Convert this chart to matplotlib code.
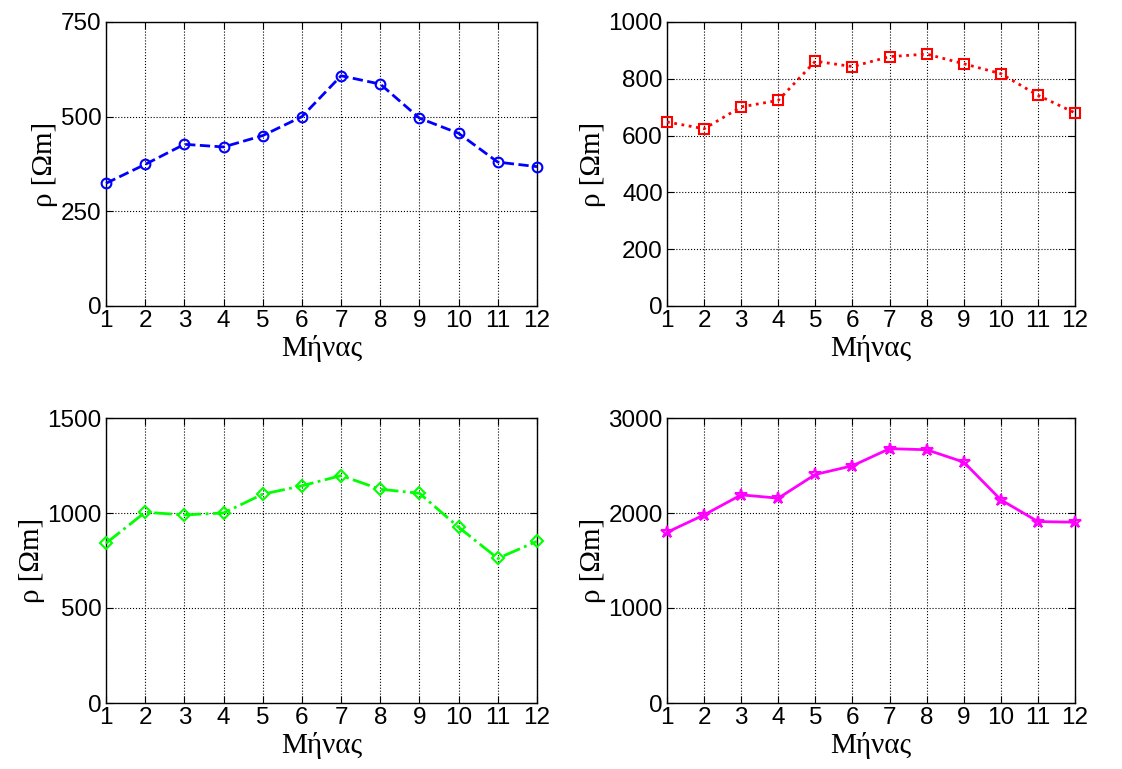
"""Monthly soil resistivity, four sites, MATLAB-like 2x2 layout."""
import matplotlib
matplotlib.use("Agg")
import matplotlib.pyplot as plt

months = list(range(1, 13))

rho_a = [324, 374, 427, 420, 450, 500, 608, 586, 496, 456, 380, 368]
rho_b = [648, 624, 701, 724, 862, 843, 878, 887, 853, 818, 742, 680]
rho_c = [841, 1004, 990, 1000, 1099, 1143, 1197, 1125, 1104, 925, 761, 851]
rho_d = [1797, 1980, 2191, 2156, 2406, 2497, 2677, 2666, 2536, 2139, 1910, 1903]

yticks_a = [0, 250, 500, 750]
yticks_b = [0, 200, 400, 600, 800, 1000]
yticks_c = [0, 500, 1000, 1500]
yticks_d = [0, 1000, 2000, 3000]

xlabel = "Μήνας"
ylabel = "ρ [Ωm]"

plt.rcParams["font.family"] = ["Liberation Sans", "DejaVu Sans"]

W, H = 1122, 769
fig = plt.figure(figsize=(W / 100, H / 100), dpi=100)


def box(x0, y0, x1, y1):
    # pixel box -> figure fraction
    return [x0 / W, 1 - y1 / H, (x1 - x0) / W, (y1 - y0) / H]


panels = [
    (box(106, 22, 537, 306), rho_a, yticks_a, "#0000ff", "--", "o"),
    (box(667, 22, 1075, 306), rho_b, yticks_b, "#ff0000", ":", "s"),
    (box(106, 418, 537, 703), rho_c, yticks_c, "#00ff00", "-.", "D"),
    (box(667, 418, 1075, 703), rho_d, yticks_d, "#ff00ff", "-", "*"),
]

for pos, vals, yt, col, ls, mk in panels:
    ax = fig.add_axes(pos)
    ms = 9 if mk == "*" else (6 if mk == "D" else 7)
    ax.plot(months, vals, color=col, linestyle=ls, linewidth=2,
            marker=mk, markersize=ms, markerfacecolor="none",
            markeredgecolor=col, markeredgewidth=1.5, clip_on=False,
            zorder=3)
    ax.set_xlim(1, 12)
    ax.set_ylim(yt[0], yt[-1])
    ax.set_xticks(months)
    ax.set_yticks(yt)
    ax.grid(True, color="black", linestyle=":", linewidth=0.8)
    ax.tick_params(direction="in", top=True, right=True, length=5,
                   labelsize=17.5, pad=3)
    for s in ax.spines.values():
        s.set_linewidth(1.0)
    ax.set_xlabel(xlabel, family=["Liberation Serif", "DejaVu Serif"],
                  fontsize=21, labelpad=2)
    ax.set_ylabel(ylabel, family=["Liberation Serif", "DejaVu Serif"],
                  fontsize=21, labelpad=2)

fig.savefig("out.png", dpi=100)
